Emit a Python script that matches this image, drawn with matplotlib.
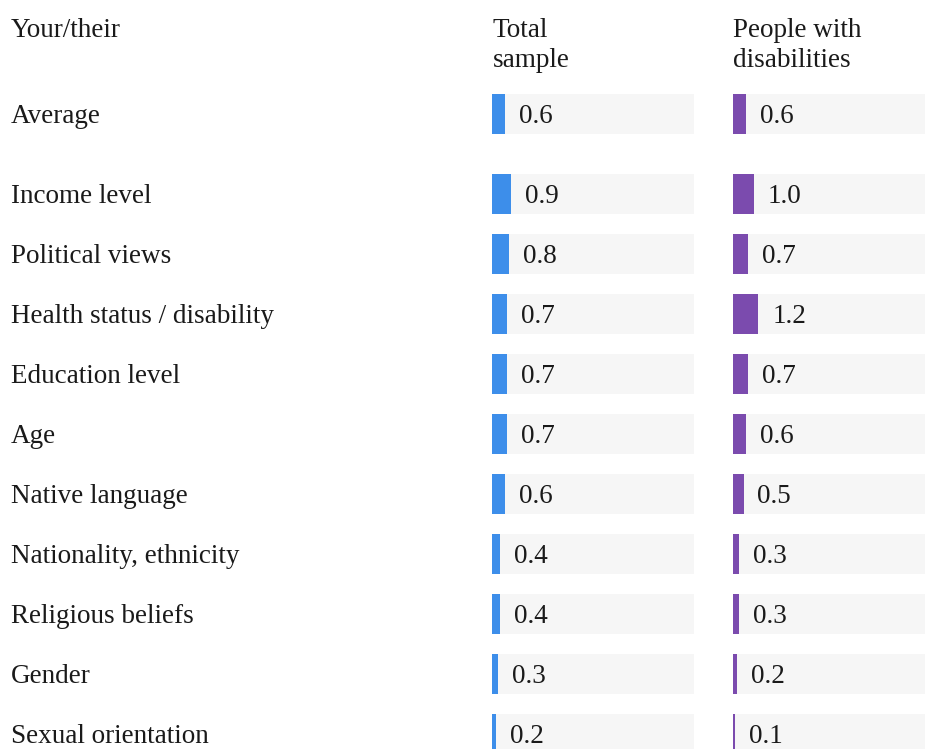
import matplotlib
matplotlib.use("Agg")
import matplotlib.pyplot as plt
from matplotlib.transforms import blended_transform_factory

# data
categories = ["Average", "Income level", "Political views", "Health status / disability",
              "Education level", "Age", "Native language", "Nationality, ethnicity",
              "Religious beliefs", "Gender", "Sexual orientation"]
total_sample = [0.6, 0.9, 0.8, 0.7, 0.7, 0.7, 0.6, 0.4, 0.4, 0.3, 0.2]
disabilities = [0.6, 1.0, 0.7, 1.2, 0.7, 0.6, 0.5, 0.3, 0.3, 0.2, 0.1]
col_titles = [["Total", "sample"], ["People with", "disabilities"]]
row_header = "Your/their"

plt.rcParams['font.family'] = ['Liberation Serif', 'DejaVu Serif']
FS = 19.5
TXT = '#1a1a1a'
BG = '#f6f6f6'
colors = ['#3d8eea', '#7b4bae']

W, H = 925, 749
fig = plt.figure(figsize=(W / 100, H / 100), dpi=100)

# row positions (one unit = one row), extra gap after the average row
ypos = [0] + [4 / 3 + i for i in range(len(categories) - 1)]
row_px = 60.0
top_px = 114.0
ylim = ((H - top_px) / row_px, -top_px / row_px)
XMAX = 9.6
base = 9 / row_px          # baseline offset below row centre
head_y = ylim[1] + 37 / row_px
line_gap = 30 / row_px

axes = []
for k, (x0, vals, col) in enumerate([(492, total_sample, colors[0]),
                                     (733, disabilities, colors[1])]):
    ax = fig.add_axes([x0 / W, 0, 202 / W, 1])
    ax.set_xlim(0, XMAX)
    ax.set_ylim(*ylim)
    ax.axis('off')
    ax.barh(ypos, [XMAX] * len(vals), height=40 / row_px, color=BG, left=0)
    ax.barh(ypos, vals, height=40 / row_px, color=col)
    for y, v in zip(ypos, vals):
        ax.annotate(f"{v:.1f}", (v, y + base), xytext=(10, 0), textcoords='offset points',
                    va='baseline', ha='left', fontsize=FS, color=TXT)
    for i, line in enumerate(col_titles[k]):
        ax.text(0.02, head_y + i * line_gap, line, va='baseline', ha='left',
                fontsize=FS, color=TXT)
    axes.append(ax)

tr = blended_transform_factory(fig.transFigure, axes[0].transData)
for y, c in zip(ypos, categories):
    axes[0].text(11 / W, y + base, c, transform=tr, va='baseline', ha='left',
                 fontsize=FS, color=TXT)
axes[0].text(11 / W, head_y, row_header, transform=tr, va='baseline',
             ha='left', fontsize=FS, color=TXT)

fig.savefig("out.png", dpi=100)
